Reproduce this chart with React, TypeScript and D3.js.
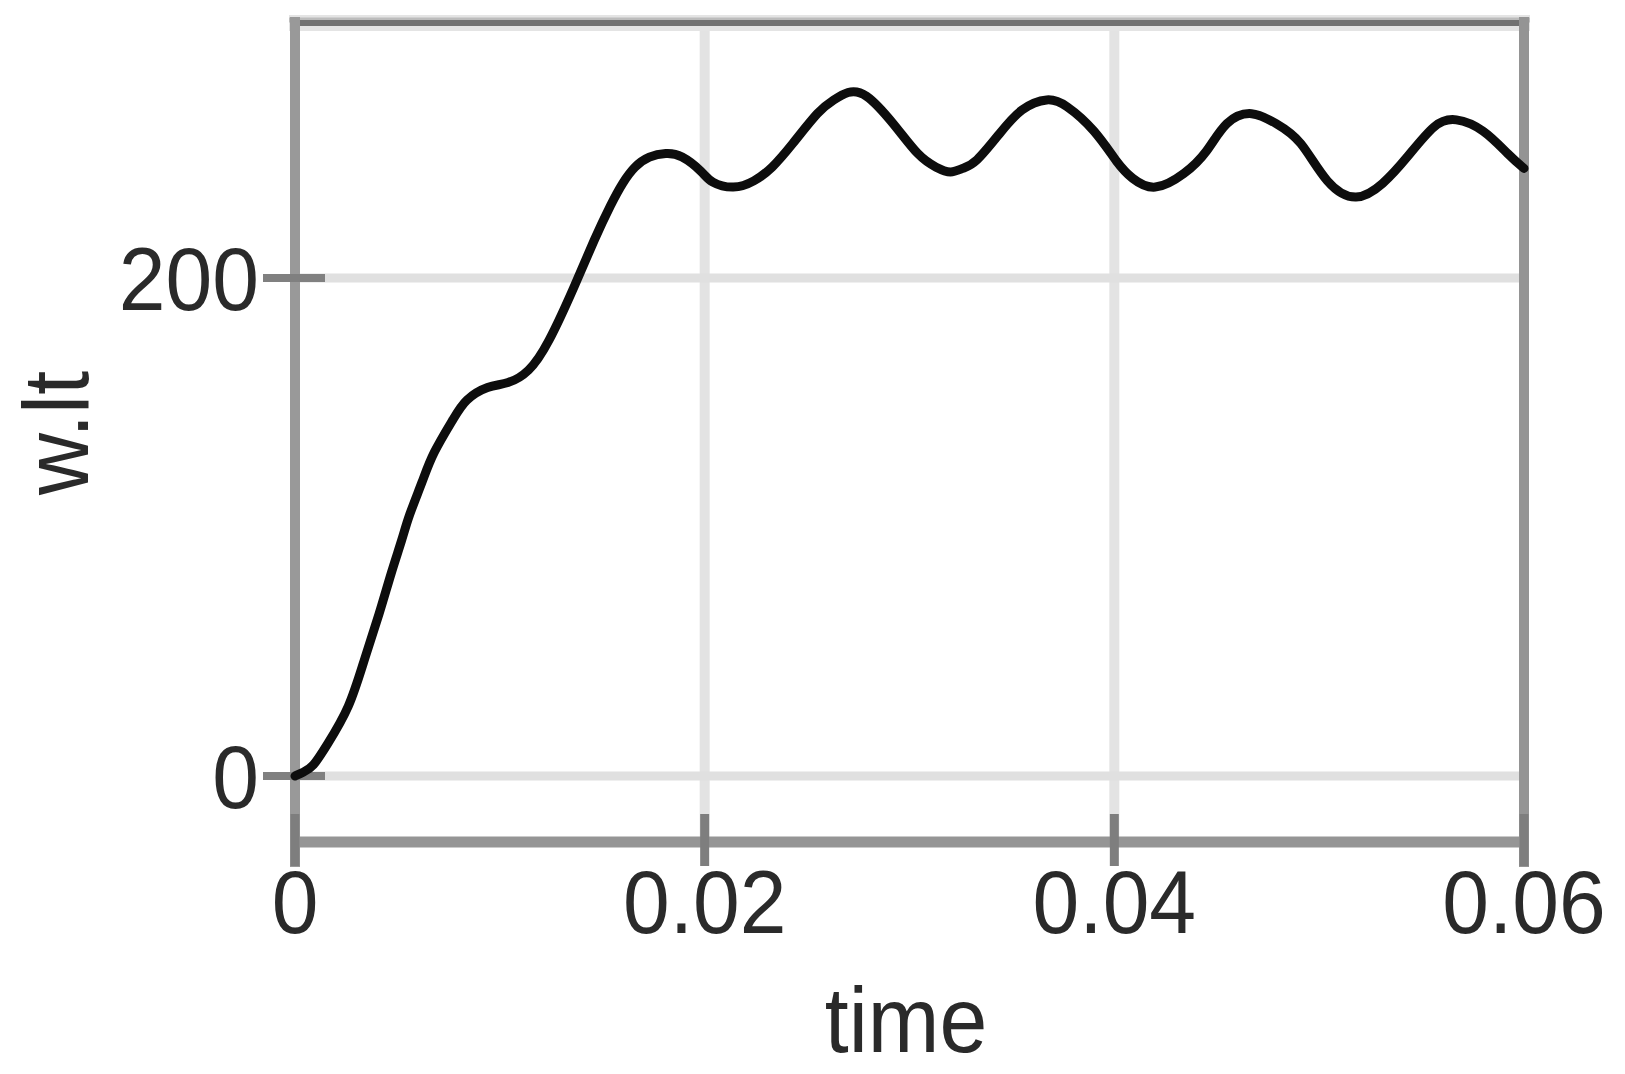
import React from "react";
import * as d3 from "d3";

const timeValues = [
  0, 0.0004, 0.0009, 0.0016, 0.0026, 0.0034, 0.0041, 0.0047, 0.0052, 0.0056, 0.0062, 0.0068,
  0.0077, 0.0084, 0.0094, 0.0104, 0.0114, 0.0124, 0.0136, 0.0146, 0.0154, 0.016, 0.0166,
  0.0173, 0.0181, 0.0189, 0.0198, 0.0204, 0.0214, 0.0224, 0.0233, 0.0243, 0.0255, 0.0263,
  0.027, 0.0279, 0.0292, 0.0304, 0.0313, 0.032, 0.0326, 0.0333, 0.0344, 0.0355, 0.0367,
  0.0377, 0.039, 0.0401, 0.0409, 0.042, 0.0434, 0.0445, 0.0455, 0.0467, 0.0479, 0.0491,
  0.0504, 0.0518, 0.0531, 0.0543, 0.0556, 0.0567, 0.058, 0.0592, 0.06,
];
const wltValues = [
  0, 1.5, 4.5, 13, 28, 47, 65, 81.5, 94.5, 105, 118, 130,
  143, 151, 156, 158, 163, 175, 196, 215, 229, 238, 244.5,
  248.5, 250, 248.6, 243, 238.5, 236.5, 239, 244.6, 254, 266, 271.5,
  274.5, 273, 262, 250, 244.5, 242.6, 244, 247.5, 258, 267.5, 271.5,
  268.7, 259, 247, 240, 236.5, 242, 251, 262, 266, 262, 254,
  239, 232.5, 238, 248.6, 260.6, 263.5, 259, 250, 244,
];
const xTicks = [0, 0.02, 0.04, 0.06];
const xTickLabels = ["0", "0.02", "0.04", "0.06"];
const yTicks = [0, 200];
const yTickLabels = ["0", "200"];
const xTitle = "time";
const yTitle = "w.lt";

export default function App() {
  const W = 1625, H = 1074;
  const left = 295, right = 1524, top = 23, bottom = 842;
  const x = d3.scaleLinear().domain([0, 0.06]).range([left, right]);
  const y = d3.scaleLinear().domain([-26.5, 302.4]).range([bottom, top]);
  const pts = timeValues.map((t, i) => [t, wltValues[i]] as [number, number]);
  const line = d3
    .line<[number, number]>()
    .x((d) => x(d[0]))
    .y((d) => y(d[1]))
    .curve(d3.curveNatural);
  const font = "'Liberation Sans', Arial, Helvetica, sans-serif";
  const textColor = "#2a2a2a";
  return (
    <svg width={W} height={H} style={{ position: "absolute", left: 0, top: 0, background: "#fff" }}>
      <rect x={0} y={0} width={W} height={H} fill="#fff" />
      {/* grid lines */}
      {xTicks.slice(1, -1).map((t) => (
        <line key={"gx" + t} x1={x(t)} x2={x(t)} y1={top} y2={bottom} stroke="#e3e3e3" strokeWidth={10} />
      ))}
      {yTicks.map((v) => (
        <line key={"gy" + v} x1={left} x2={right} y1={y(v)} y2={y(v)} stroke="#e0e0e0" strokeWidth={9} />
      ))}
      {/* frame */}
      <line x1={left - 6} x2={right + 6} y1={top} y2={top} stroke="#e4e4e4" strokeWidth={16} />
      <line x1={left - 6} x2={right + 6} y1={top - 3} y2={top - 3} stroke="#bcbcbc" strokeWidth={5} />
      <line x1={left} x2={right} y1={top} y2={top} stroke="#727272" strokeWidth={6} />
      <line x1={left} x2={left} y1={top - 6} y2={867} stroke="#999" strokeWidth={10} />
      <line x1={right} x2={right} y1={top - 6} y2={867} stroke="#949494" strokeWidth={10} />
      <line x1={left} x2={right + 4} y1={bottom} y2={bottom} stroke="#959595" strokeWidth={11} />
      {/* ticks */}
      {xTicks.map((t) => (
        <line key={"tx" + t} x1={x(t)} x2={x(t)} y1={bottom - 28} y2={bottom + 24} stroke="#7e7e7e" strokeWidth={9} />
      ))}
      {yTicks.map((v) => (
        <line key={"ty" + v} x1={left - 32} x2={left + 30} y1={y(v)} y2={y(v)} stroke="#808080" strokeWidth={8} />
      ))}
      {/* curve */}
      <path d={line(pts) || ""} fill="none" stroke="#0d0d0d" strokeWidth={9} strokeLinejoin="round" strokeLinecap="round" />
      {/* tick labels */}
      {xTicks.map((t, i) => (
        <text
          key={"lx" + t}
          transform={`translate(${x(t)},933) scale(1,1.05)`}
          textAnchor="middle"
          fontFamily={font}
          fontSize={84}
          fill={textColor}
        >
          {xTickLabels[i]}
        </text>
      ))}
      {yTicks.map((v, i) => (
        <text
          key={"ly" + v}
          transform={`translate(259,${y(v) + 32}) scale(1,1.05)`}
          textAnchor="end"
          fontFamily={font}
          fontSize={84}
          fill={textColor}
        >
          {yTickLabels[i]}
        </text>
      ))}
      {/* axis titles */}
      <text
        transform={`translate(906,1052) scale(1,1.07)`}
        textAnchor="middle"
        fontFamily={font}
        fontSize={86}
        fill={textColor}
      >
        {xTitle}
      </text>
      <text
        transform={`translate(88,433) rotate(-90) scale(1,1.07)`}
        textAnchor="middle"
        fontFamily={font}
        fontSize={86}
        fill={textColor}
      >
        {yTitle}
      </text>
    </svg>
  );
}
